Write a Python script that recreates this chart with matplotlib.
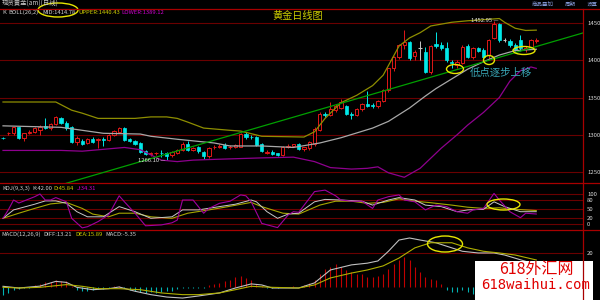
import matplotlib
matplotlib.use("Agg")
import matplotlib.pyplot as plt
from matplotlib.patches import Ellipse, Rectangle
from matplotlib.lines import Line2D
import numpy as np

plt.rcParams['font.family'] = ['Noto Sans CJK SC', 'DejaVu Sans']

# ---- daily candles ----
opens = [1296, 1302, 1302, 1310, 1296, 1303, 1304, 1306, 1312, 1309,
         1315, 1322, 1316, 1311, 1290, 1292, 1289, 1294, 1293, 1294,
         1293, 1300, 1304, 1309, 1294, 1291, 1289, 1278, 1274, 1275,
         1276, 1275, 1273, 1276, 1280, 1288, 1280, 1284, 1277, 1271,
         1283, 1284, 1286, 1283, 1284, 1284, 1301, 1297.5, 1297, 1287,
         1276, 1277, 1275, 1273, 1284, 1285, 1287, 1281, 1282, 1287,
         1307, 1328, 1327, 1333, 1336, 1338, 1328, 1327, 1334, 1341,
         1340, 1338, 1345, 1360, 1389, 1404, 1420, 1424, 1406, 1416,
         1411, 1384, 1422, 1421, 1416, 1398, 1394, 1397, 1419, 1404,
         1416, 1414, 1407, 1430, 1448, 1427, 1426, 1421, 1427, 1415,
         1418, 1426]
highs = [1297, 1304, 1311, 1311, 1303, 1306, 1310, 1313, 1323, 1316,
         1325, 1324, 1318, 1312, 1298, 1294, 1296, 1297, 1296, 1297,
         1301, 1306, 1311, 1311, 1296, 1293, 1290, 1280, 1277, 1277,
         1279, 1277, 1278, 1281, 1290, 1291, 1283, 1285, 1278, 1284,
         1286, 1287, 1289, 1286, 1288, 1303, 1304, 1300, 1299, 1289,
         1279, 1279, 1276, 1285, 1287, 1288, 1289, 1284, 1292, 1310,
         1330, 1331, 1344, 1341, 1348, 1340, 1330, 1336, 1343, 1359,
         1342, 1347, 1362, 1390, 1406, 1422, 1441, 1426, 1414, 1426,
         1418, 1420, 1438, 1425, 1424, 1400, 1401, 1420, 1422, 1418,
         1418, 1417, 1428, 1452.95, 1450, 1430, 1428, 1423, 1434, 1419,
         1429, 1430]
lows = [1295, 1300, 1300, 1294, 1292, 1301, 1302, 1300, 1308, 1307,
        1313, 1314, 1307, 1289, 1286, 1286, 1287, 1289, 1282, 1285,
        1291, 1298, 1302, 1292, 1290, 1286, 1276, 1273, 1272, 1273,
        1270, 1266.1, 1270, 1274, 1278, 1278, 1278, 1276, 1268, 1269,
        1281, 1282, 1281, 1281, 1282, 1283, 1295, 1294, 1285, 1277,
        1274, 1273, 1271, 1272, 1282, 1284, 1280, 1278, 1279, 1285,
        1305, 1324, 1325, 1331, 1334, 1326, 1321, 1325, 1332, 1337,
        1336, 1336, 1344, 1358, 1386, 1402, 1415, 1400, 1400, 1401,
        1383, 1382, 1417, 1414, 1398, 1389, 1390, 1395, 1403, 1402,
        1411, 1403, 1401, 1428, 1425, 1424, 1418, 1412, 1413, 1411,
        1416, 1423]
closes = [1295.5, 1302.5, 1310, 1296, 1302, 1304, 1309, 1311, 1309, 1315,
          1324, 1316, 1309, 1290, 1296, 1288, 1294, 1290, 1294, 1293,
          1300, 1305, 1309, 1293, 1291, 1288, 1277, 1274, 1276, 1275.5,
          1275, 1272, 1277, 1280, 1288, 1280, 1282, 1278, 1271, 1282,
          1284, 1285, 1282, 1284, 1286, 1301, 1297, 1297, 1286, 1278,
          1277, 1274, 1273, 1283, 1285, 1287, 1281, 1283, 1290, 1308,
          1328, 1327, 1334, 1338, 1344, 1328, 1326, 1334, 1341, 1339,
          1338, 1346, 1360, 1389, 1404, 1420, 1424, 1403, 1411, 1416,
          1384, 1419, 1419, 1416, 1400, 1396, 1398, 1418, 1404, 1416,
          1413, 1405, 1427, 1448, 1427, 1427, 1420, 1414, 1416, 1417,
          1427, 1427]

# ---- BOLL(26,2) lines, vertices read at candle indices ----
upper_i = [0, 10, 13, 15, 18, 25, 28, 31, 33, 35, 38, 43, 45, 49, 57, 59, 61,
           64, 67, 70, 72, 73, 75, 77, 79, 81, 85, 88, 92, 94, 95, 97, 99, 101]
upper_v = [1344, 1344, 1333, 1329, 1322, 1322, 1324, 1324, 1322, 1317, 1309,
           1306, 1305, 1298, 1297, 1304, 1322, 1343, 1353, 1366, 1380, 1393,
           1419, 1430, 1437, 1446, 1451, 1453, 1455, 1456, 1451, 1443, 1440,
           1440.43]
mid_i = [0, 11, 15, 19, 26, 28, 33, 40, 43, 49, 55, 60, 64, 70, 73, 77, 80,
         82, 85, 88, 91, 94, 97, 101]
mid_v = [1312, 1310, 1306, 1302, 1301, 1298, 1294, 1289, 1285, 1285, 1283,
         1289, 1296, 1309, 1318, 1336, 1352, 1362, 1375, 1388, 1398, 1407,
         1413, 1414.78]
lower_i = [0, 11, 15, 23, 26, 28, 30, 33, 36, 40, 49, 55, 59, 62, 66, 69, 71,
           73, 76, 79, 83, 86, 88, 91, 94, 96, 98, 100, 101]
lower_v = [1279, 1279, 1278, 1283, 1280, 1273, 1266, 1264, 1266, 1267, 1269,
           1270, 1264, 1256, 1254, 1255, 1257, 1249, 1243, 1255, 1282, 1300,
           1313, 1330, 1350, 1372, 1386, 1391, 1389.12]

# hand-drawn support line
trend_i = [12, 110]
trend_p = [1235, 1437]

# ---- KDJ(9,3,3) ----
k_i = [0, 2, 6, 8, 10, 12, 14, 16, 19, 22, 25, 28, 32, 34, 37, 41, 44, 47, 48,
       50, 52, 54, 56, 59, 61, 64, 68, 70, 73, 75, 78, 80, 83, 86, 88, 91, 93,
       95, 98, 101]
k_v = [20, 48, 67, 78, 78, 70, 42, 25, 25, 59, 42, 20, 25, 48, 48, 59, 67, 81,
       75, 42, 20, 34, 37, 75, 83, 81, 77, 64, 81, 89, 81, 64, 59, 42, 48, 50,
       75, 59, 42, 42.00]
d_i = [0, 3, 6, 9, 12, 15, 17, 20, 22, 25, 28, 32, 35, 39, 42, 47, 49, 53, 56,
       60, 63, 66, 69, 72, 75, 78, 81, 85, 88, 91, 94, 97, 101]
d_v = [20, 37, 53, 68, 73, 53, 34, 25, 37, 37, 25, 20, 37, 48, 57, 73, 59, 37,
       34, 64, 77, 77, 70, 73, 85, 77, 72, 64, 57, 53, 55, 50, 45.84]
j_i = [0, 1, 2, 3, 6, 7, 8, 9, 10, 12, 13, 15, 16, 18, 20, 22, 23, 25, 27, 30,
       32, 33, 34, 36, 37, 38, 39, 41, 43, 45, 46, 47, 49, 52, 54, 55, 56, 59,
       61, 63, 64, 66, 68, 70, 71, 73, 75, 76, 78, 80, 82, 84, 86, 88, 89, 91,
       93, 94, 96, 98, 99, 101]
j_v = [20, 48, 81, 71, 92, 101, 81, 81, 89, 75, 20, -12, -8, 9, 31, 95, 75, 37,
       -5, -2, 5, 14, 81, 81, 59, 37, 53, 70, 77, 98, 95, 75, 3, -11, 31, 42,
       40, 109, 114, 95, 81, 77, 77, 53, 81, 92, 98, 81, 75, 48, 64, 59, 42, 37,
       48, 53, 103, 81, 42, 22, 37, 34.31]

# ---- MACD(12,26,9) ----
diff_i = [0, 3, 7, 10, 12, 14, 17, 20, 22, 25, 28, 31, 34, 37, 41, 44, 47, 49,
          51, 56, 59, 62, 66, 69, 71, 73, 75, 77, 79, 82, 85, 87, 90, 93, 95,
          98, 101]
diff_v = [0.4, -0.6, 0.5, 3.3, 2.7, -0.2, -1.6, -1, 0, -2.5, -4.5, -5.9, -6.5,
          -5.3, -3.5, -0.6, 1.8, 1.2, -0.6, -0.6, 2.4, 10, 13, 14, 15.3, 21,
          27.6, 28.8, 27.6, 26, 23, 21, 20, 20, 18.8, 16, 13.21]
dea_i = [0, 3, 7, 12, 15, 18, 22, 26, 30, 34, 37, 41, 44, 47, 51, 56, 59, 62,
         66, 69, 72, 75, 78, 81, 85, 88, 91, 94, 97, 101]
dea_v = [-0.2, -0.6, -0.2, 1.4, 0.4, -1, -1, -1.6, -3.5, -4.5, -4.5, -3.5, -1.6,
         0.4, -0.2, -0.6, 1.2, 5.3, 8.2, 10, 12.4, 17, 23, 26, 26, 23, 21, 20,
         18.8, 15.89]
macd_bar = [-5, -3.5, -1.5, -1, -0.8, -0.5, 1, 1.9, 2.7, 2.7,
            4.3, 3.3, 3.7, 0.5, -1.6, -2.5, -2.2, -1.6, -1.2, -1.0,
            -0.6, 0.3, 0.5, -0.8, -1.6, -2.2, -3, -3.5, -3.2, -3.5,
            -3, -2.5, -2.2, -1.2, -0.8, -0.6, -0.4, -0.5, -0.8, 1.4,
            1.6, 2.5, 3.3, 4.3, 5.7, 6.3, 5.3, 4.3, 1.9, 0.5,
            -0.6, -0.8, -0.6, -0.3, 0.2, 0.3, 0.2, 1, 2.5, 4,
            7.8, 10.8, 12, 13.3, 12, 9.8, 8.8, 7.8, 7.5, 5.9,
            5.9, 6.3, 7.8, 10.8, 13.7, 15.7, 17.6, 15.7, 11.8, 8.8,
            5.9, 4.9, 3.9, 2, -2, -2.9, -2.9, -2, -2.9, -3.9,
            -4, -4.5, -3, -2.5, -4, -5, -6, -6.5, -6, -5.5,
            -5.4, -5.35]

W, H = 600, 300
GRID = '#6a0000'
EDGE = '#a80000'


def box(top, bottom, left=0, right=583):
    return [left / W, 1 - bottom / H, (right - left) / W, (bottom - top) / H]


def ftext(x, y, s, **kw):
    kw.setdefault('va', 'center')
    fig.text(x / W, 1 - y / H, s, **kw)


def ring(cx, cy, w, h):
    fig.add_artist(Ellipse((cx / W, 1 - cy / H), w / W, h / H, fill=False,
                           edgecolor='#e6e600', lw=1.0,
                           transform=fig.transFigure))


fig = plt.figure(figsize=(6, 3), dpi=100, facecolor='black')
ax_k = fig.add_axes(box(9, 183))
ax_kdj = fig.add_axes(box(183, 230))
ax_macd = fig.add_axes(box(230, 300))

for ax, ticks in [(ax_k, [1250, 1300, 1350, 1400, 1450]),
                  (ax_kdj, [0, 20, 50, 80, 100]),
                  (ax_macd, [20])]:
    ax.set_facecolor('black')
    ax.set_xlim(-0.57, 109.85)
    ax.set_xticks([])
    for sp in ax.spines.values():
        sp.set_visible(False)
    ax.yaxis.tick_right()
    ax.set_yticks(ticks)
    ax.tick_params(axis='y', length=0, pad=3, labelsize=4.3,
                   labelcolor='#d8d8d8')
    for t in ticks:
        ax.axhline(t, color=GRID, lw=0.8, zorder=0)

ax_k.set_ylim(1235.3, 1468.8)
ax_kdj.set_ylim(-19, 137.7)
ax_macd.set_ylim(-7.65, 33.5)

# candles
idx = np.arange(len(closes))
o = np.array(opens)
h = np.array(highs)
l = np.array(lows)
c = np.array(closes)
up = c > o
dn = c < o
fl = c == o
RED = '#e01818'
CYAN = '#00e8e8'
wick_col = np.where(up, RED, np.where(dn, CYAN, '#c8c8c8'))
ax_k.vlines(idx, l, h, colors=wick_col, lw=0.7, zorder=2)
ax_k.bar(idx[up], (c - o)[up], bottom=o[up], width=0.62, facecolor='black',
         edgecolor=RED, lw=0.7, zorder=3)
ax_k.bar(idx[dn], (o - c)[dn], bottom=c[dn], width=0.62, color=CYAN,
         edgecolor=CYAN, lw=0.5, zorder=3)
ax_k.hlines(o[fl], idx[fl] - 0.35, idx[fl] + 0.35, colors='#c8c8c8', lw=0.8,
            zorder=3)

ax_k.plot(upper_i, upper_v, color='#8e8e00', lw=0.9, zorder=4)
ax_k.plot(mid_i, mid_v, color='#a8a8a8', lw=0.9, zorder=4)
ax_k.plot(lower_i, lower_v, color='#8e008e', lw=0.9, zorder=4)
ax_k.plot(trend_i, trend_p, color='#00a000', lw=0.9, zorder=4)

hi = int(np.argmax(h))
lo = int(np.argmin(l))
ax_k.text(hi + 0.9, h[hi], '1452.95 —', ha='right', va='center', fontsize=4.2,
          color='#e0e0e0', zorder=5)
ax_k.text(lo - 0.2, l[lo], '1266.10 —', ha='right', va='center', fontsize=4.2,
          color='#e0e0e0', zorder=5)

# KDJ
ax_kdj.plot(d_i, d_v, color='#a6a600', lw=0.8)
ax_kdj.plot(k_i, k_v, color='#c8c8c8', lw=0.7)
ax_kdj.plot(j_i, j_v, color='#a000a0', lw=0.8)

# MACD
mb = np.array(macd_bar)
ax_macd.vlines(idx, 0, mb, colors=np.where(mb >= 0, '#c00000', '#00b4b4'),
               lw=0.8)
ax_macd.plot(diff_i, diff_v, color='#c0c0c0', lw=0.8)
ax_macd.plot(dea_i, dea_v, color='#b0b000', lw=0.8)

# frame lines
for y in (9, 183, 230):
    fig.add_artist(Line2D([0, 1], [1 - y / H] * 2, color=EDGE, lw=0.9,
                          transform=fig.transFigure))
fig.add_artist(Line2D([583 / W] * 2, [0, 1 - 9 / H], color=EDGE, lw=0.9,
                      transform=fig.transFigure))

# header texts
ftext(2, 4, '现货黄金(am)(日线)', fontsize=4.6, color='#c8c8c8')
ftext(532, 4, '商品叠加', fontsize=4.0, color='#8094d0')
ftext(565, 4, '周期', fontsize=4.0, color='#8094d0')
ftext(587, 4, '设置', fontsize=4.0, color='#8094d0')
ftext(2, 12, 'K', fontsize=4.2, color='#d0d0d0')
ftext(8, 12, 'BOLL(26,2)', fontsize=4.2, color='#d0d0d0')
ftext(42, 12, 'MID:1414.78', fontsize=4.2, color='#d0d0d0')
ftext(78, 12, 'UPPER:1440.43', fontsize=4.2, color='#d0d000')
ftext(121, 12, 'LOWER:1389.12', fontsize=4.2, color='#d000d0')
ftext(272, 15.5, '黄金日线图', fontsize=7.3, color='#cccc00')
ftext(470, 72.5, '低点逐步上移', fontsize=7.5, color='#3aa8b8')

ftext(2, 188, 'KDJ(9,3,3)', fontsize=4.2, color='#d0d0d0')
ftext(32, 188, 'K:42.00', fontsize=4.2, color='#d0d0d0')
ftext(53, 188, 'D:45.84', fontsize=4.2, color='#d0d000')
ftext(77, 188, 'J:34.31', fontsize=4.2, color='#d000d0')

ftext(1, 234, 'MACD(12,26,9)', fontsize=4.2, color='#d0d0d0')
ftext(43, 234, 'DIFF:13.21', fontsize=4.2, color='#d0d0d0')
ftext(75, 234, 'DEA:15.89', fontsize=4.2, color='#d0d000')
ftext(105, 234, 'MACD:-5.35', fontsize=4.2, color='#d0d0d0')

# yellow marker rings
ring(58, 10, 40, 14)
ring(455, 69, 17, 9)
ring(489, 60, 11, 9)
ring(524, 50.5, 22, 8)
ring(503.5, 204.5, 33, 11)
ring(445, 244, 35, 16)

# site stamp
fig.add_artist(Rectangle((475 / W, 0), 118 / W, 39 / H, facecolor='white',
                         edgecolor='none', transform=fig.transFigure))
ftext(536, 269.5, '618外汇网', fontsize=11.5, color='#e00000', ha='center')
ftext(536, 285, '618waihui.com', fontsize=10, color='#e00000', ha='center',
      family='DejaVu Sans Mono')

fig.savefig('out.png', dpi=100, facecolor='black')
